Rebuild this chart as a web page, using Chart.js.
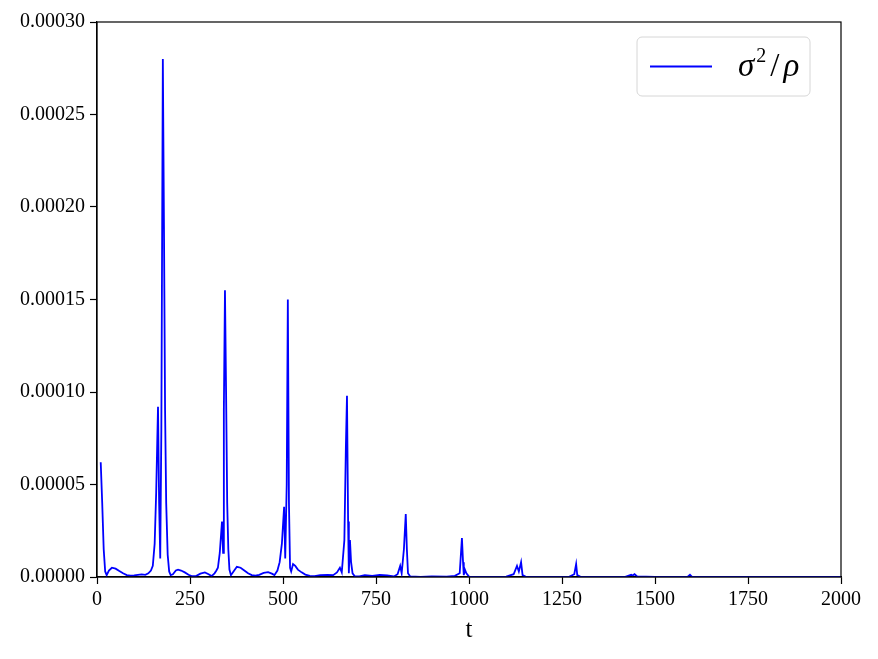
<!DOCTYPE html>
<html>
<head>
<meta charset="utf-8">
<script src="https://cdn.jsdelivr.net/npm/chart.js@4.4.1/dist/chart.umd.min.js"></script>
<style>
  html, body { margin: 0; padding: 0; background: #ffffff; }
  #wrap { width: 878px; height: 659px; position: relative; }
</style>
</head>
<body>
<div id="wrap"><canvas id="chart_sigma"></canvas></div>
<script>
/* ------------------
  data
-------------------*/
var seriesLabel = "σ²/ρ";
var axisTitleX = "t";

var tValues = [
  10, 14, 18, 22, 26, 32, 40, 50, 60, 70, 80, 90, 100, 110, 120, 130, 138, 145,
  150, 155, 159, 164, 167, 170, 173, 177, 180, 183, 186, 190, 194, 198,
  204, 212, 218, 226, 236, 246, 256, 266, 278, 290, 300, 308, 316, 321,
  325, 330, 336, 339, 341, 344, 347, 350, 353, 356, 360,
  367, 376, 386, 396, 406, 416, 426, 436, 448, 460, 470, 477, 485, 491,
  497, 503, 506, 510, 513, 516, 519, 522, 527, 533, 540, 550, 560, 572, 585,
  600, 620, 635, 645, 653, 658, 665, 669, 672, 675, 677, 680, 683, 687, 693,
  705, 720, 740, 760, 780, 798, 808, 815, 819, 825, 830, 833, 836, 842,
  870, 900, 940, 962, 975, 981, 984, 986, 989, 993, 1000,
  1050, 1100, 1120, 1129, 1134, 1140, 1144, 1152,
  1200, 1270, 1283, 1288, 1291, 1300,
  1420, 1436, 1440, 1445, 1452, 1500, 1588, 1594, 1599, 1750, 2000
];

var sigmaRho = [
  6.2e-5, 4.0e-5, 1.5e-5, 3e-6, 1e-6, 3.5e-6, 5e-6, 4.5e-6, 3.2e-6, 2e-6, 1e-6, 7e-7, 9e-7, 1.2e-6, 1.4e-6, 1.2e-6, 2e-6, 3.5e-6,
  6e-6, 1.8e-5, 4.5e-5, 9.2e-5, 4e-5, 1e-5, 8e-5, 2.8e-4, 1.9e-4, 9e-5, 4e-5, 1.2e-5, 3e-6, 1e-6,
  1.5e-6, 3.5e-6, 4e-6, 3.5e-6, 2.5e-6, 1.2e-6, 4e-7, 5e-7, 1.8e-6, 2.5e-6, 1.5e-6, 5e-7, 2e-6, 3.5e-6,
  5e-6, 1.3e-5, 3e-5, 1.3e-5, 9e-5, 1.55e-4, 1e-4, 4e-5, 1.5e-5, 4e-6, 1e-6,
  3e-6, 5.5e-6, 5e-6, 3.5e-6, 2e-6, 1e-6, 7e-7, 1.2e-6, 2.2e-6, 2.6e-6, 1.8e-6, 1e-6, 3.5e-6, 8e-6,
  1.8e-5, 3.8e-5, 1e-5, 5e-5, 1.5e-4, 4e-5, 5e-6, 3e-6, 7e-6, 6e-6, 4e-6, 2.5e-6, 1.3e-6, 6e-7, 5e-7,
  1e-6, 1.2e-6, 1e-6, 2.5e-6, 5e-6, 2.5e-6, 2e-5, 7e-5, 9.8e-5, 3e-5, 2e-6, 2e-5, 8e-6, 2e-6, 4e-7,
  3e-7, 1e-6, 6e-7, 1.2e-6, 9e-7, 3e-7, 1.5e-6, 6e-6, 2e-6, 1.5e-5, 3.4e-5, 1.5e-5, 2e-6, 3e-7,
  1e-7, 3e-7, 2e-7, 6e-7, 2e-6, 2.1e-5, 8e-6, 1e-6, 4e-6, 2e-6, 2e-7,
  1e-7, 2e-7, 1.5e-6, 6e-6, 3e-6, 8e-6, 1e-6, 2e-7,
  1e-7, 2e-7, 1.5e-6, 7e-6, 1e-6, 1e-7,
  1e-7, 1.2e-6, 8e-7, 1.5e-6, 3e-7, 1e-7, 2e-7, 1.2e-6, 2e-7, 1e-7, 0
];

var xTicks = [0, 250, 500, 750, 1000, 1250, 1500, 1750, 2000];
var yTicks = [0, 0.00005, 0.0001, 0.00015, 0.0002, 0.00025, 0.0003];

var points = tValues.map(function (t, i) { return { x: t, y: sigmaRho[i] }; });

/* ------------------
  frame + legend box (matplotlib style)
-------------------*/
var framePlugin = {
  id: 'frame',
  afterDatasetsDraw: function (chart) {
    var a = chart.chartArea, ctx = chart.ctx;
    ctx.save();
    ctx.strokeStyle = '#000000';
    ctx.lineWidth = 1.2;
    ctx.strokeRect(a.left, a.top, a.right - a.left, a.bottom - a.top);

    // legend in the upper right corner
    var bw = 173, bh = 59;
    var bx = a.right - 31 - bw, by = a.top + 15;
    ctx.beginPath();
    ctx.roundRect(bx, by, bw, bh, 5);
    ctx.fillStyle = 'rgba(255,255,255,0.8)';
    ctx.fill();
    ctx.strokeStyle = '#d6d6d6';
    ctx.lineWidth = 1;
    ctx.stroke();

    var ds = chart.data.datasets[0];
    var ly = by + bh / 2;
    ctx.beginPath();
    ctx.moveTo(bx + 13, ly);
    ctx.lineTo(bx + 75, ly);
    ctx.strokeStyle = ds.borderColor;
    ctx.lineWidth = 1.8;
    ctx.stroke();

    // label drawn in pieces so the 2 sits as a superscript
    ctx.fillStyle = '#000000';
    ctx.textBaseline = 'alphabetic';
    var tx = bx + 101, base = ly + 9;
    ctx.font = 'italic 33px "Liberation Serif", serif';
    ctx.fillText('σ', tx, base);
    tx += ctx.measureText('σ').width + 2;
    ctx.font = '20px "Liberation Serif", serif';
    ctx.fillText('2', tx, base - 14);
    tx += ctx.measureText('2').width + 4;
    ctx.font = '33px "Liberation Serif", serif';
    ctx.fillText('/', tx, base);
    tx += ctx.measureText('/').width + 4;
    ctx.font = 'italic 33px "Liberation Serif", serif';
    ctx.fillText('ρ', tx, base);
    ctx.restore();
  }
};

new Chart(document.getElementById("chart_sigma"), {
  type: 'line',
  data: {
    datasets: [
      {
        label: seriesLabel,
        data: points,
        borderColor: '#0000ff',
        borderWidth: 1.8,
        pointRadius: 0,
        tension: 0,
        fill: false
      }
    ]
  },
  options: {
    responsive: true,
    maintainAspectRatio: false,
    animation: false,
    layout: { padding: { top: 22, right: 37, left: 0, bottom: 0 } },
    plugins: {
      legend: { display: false },
      tooltip: { enabled: false }
    },
    scales: {
      x: {
        type: 'linear',
        min: 0,
        max: 2000,
        afterFit: function (scale) { scale.height = 82; },
        afterBuildTicks: function (scale) {
          scale.ticks = xTicks.map(function (v) { return { value: v }; });
        },
        grid: { drawOnChartArea: false, tickLength: 7, color: '#000000', tickWidth: 1.2 },
        border: { color: '#000000', width: 1.2 },
        ticks: {
          color: '#000000',
          padding: 4,
          maxRotation: 0,
          font: { family: '"Liberation Serif", serif', size: 20 },
          callback: function (v) { return String(v); }
        },
        title: {
          display: true,
          text: axisTitleX,
          color: '#000000',
          padding: { top: 0, bottom: 14 },
          font: { family: '"Liberation Serif", serif', size: 25 }
        }
      },
      y: {
        type: 'linear',
        min: 0,
        max: 0.0003,
        afterFit: function (scale) { scale.width = 97; },
        afterBuildTicks: function (scale) {
          scale.ticks = yTicks.map(function (v) { return { value: v }; });
        },
        grid: { drawOnChartArea: false, tickLength: 7, color: '#000000', tickWidth: 1.2 },
        border: { color: '#000000', width: 1.2 },
        ticks: {
          color: '#000000',
          padding: 5,
          font: { family: '"Liberation Serif", serif', size: 20 },
          callback: function (v) { return Number(v).toFixed(5); }
        }
      }
    }
  },
  plugins: [framePlugin]
});
</script>
</body>
</html>
